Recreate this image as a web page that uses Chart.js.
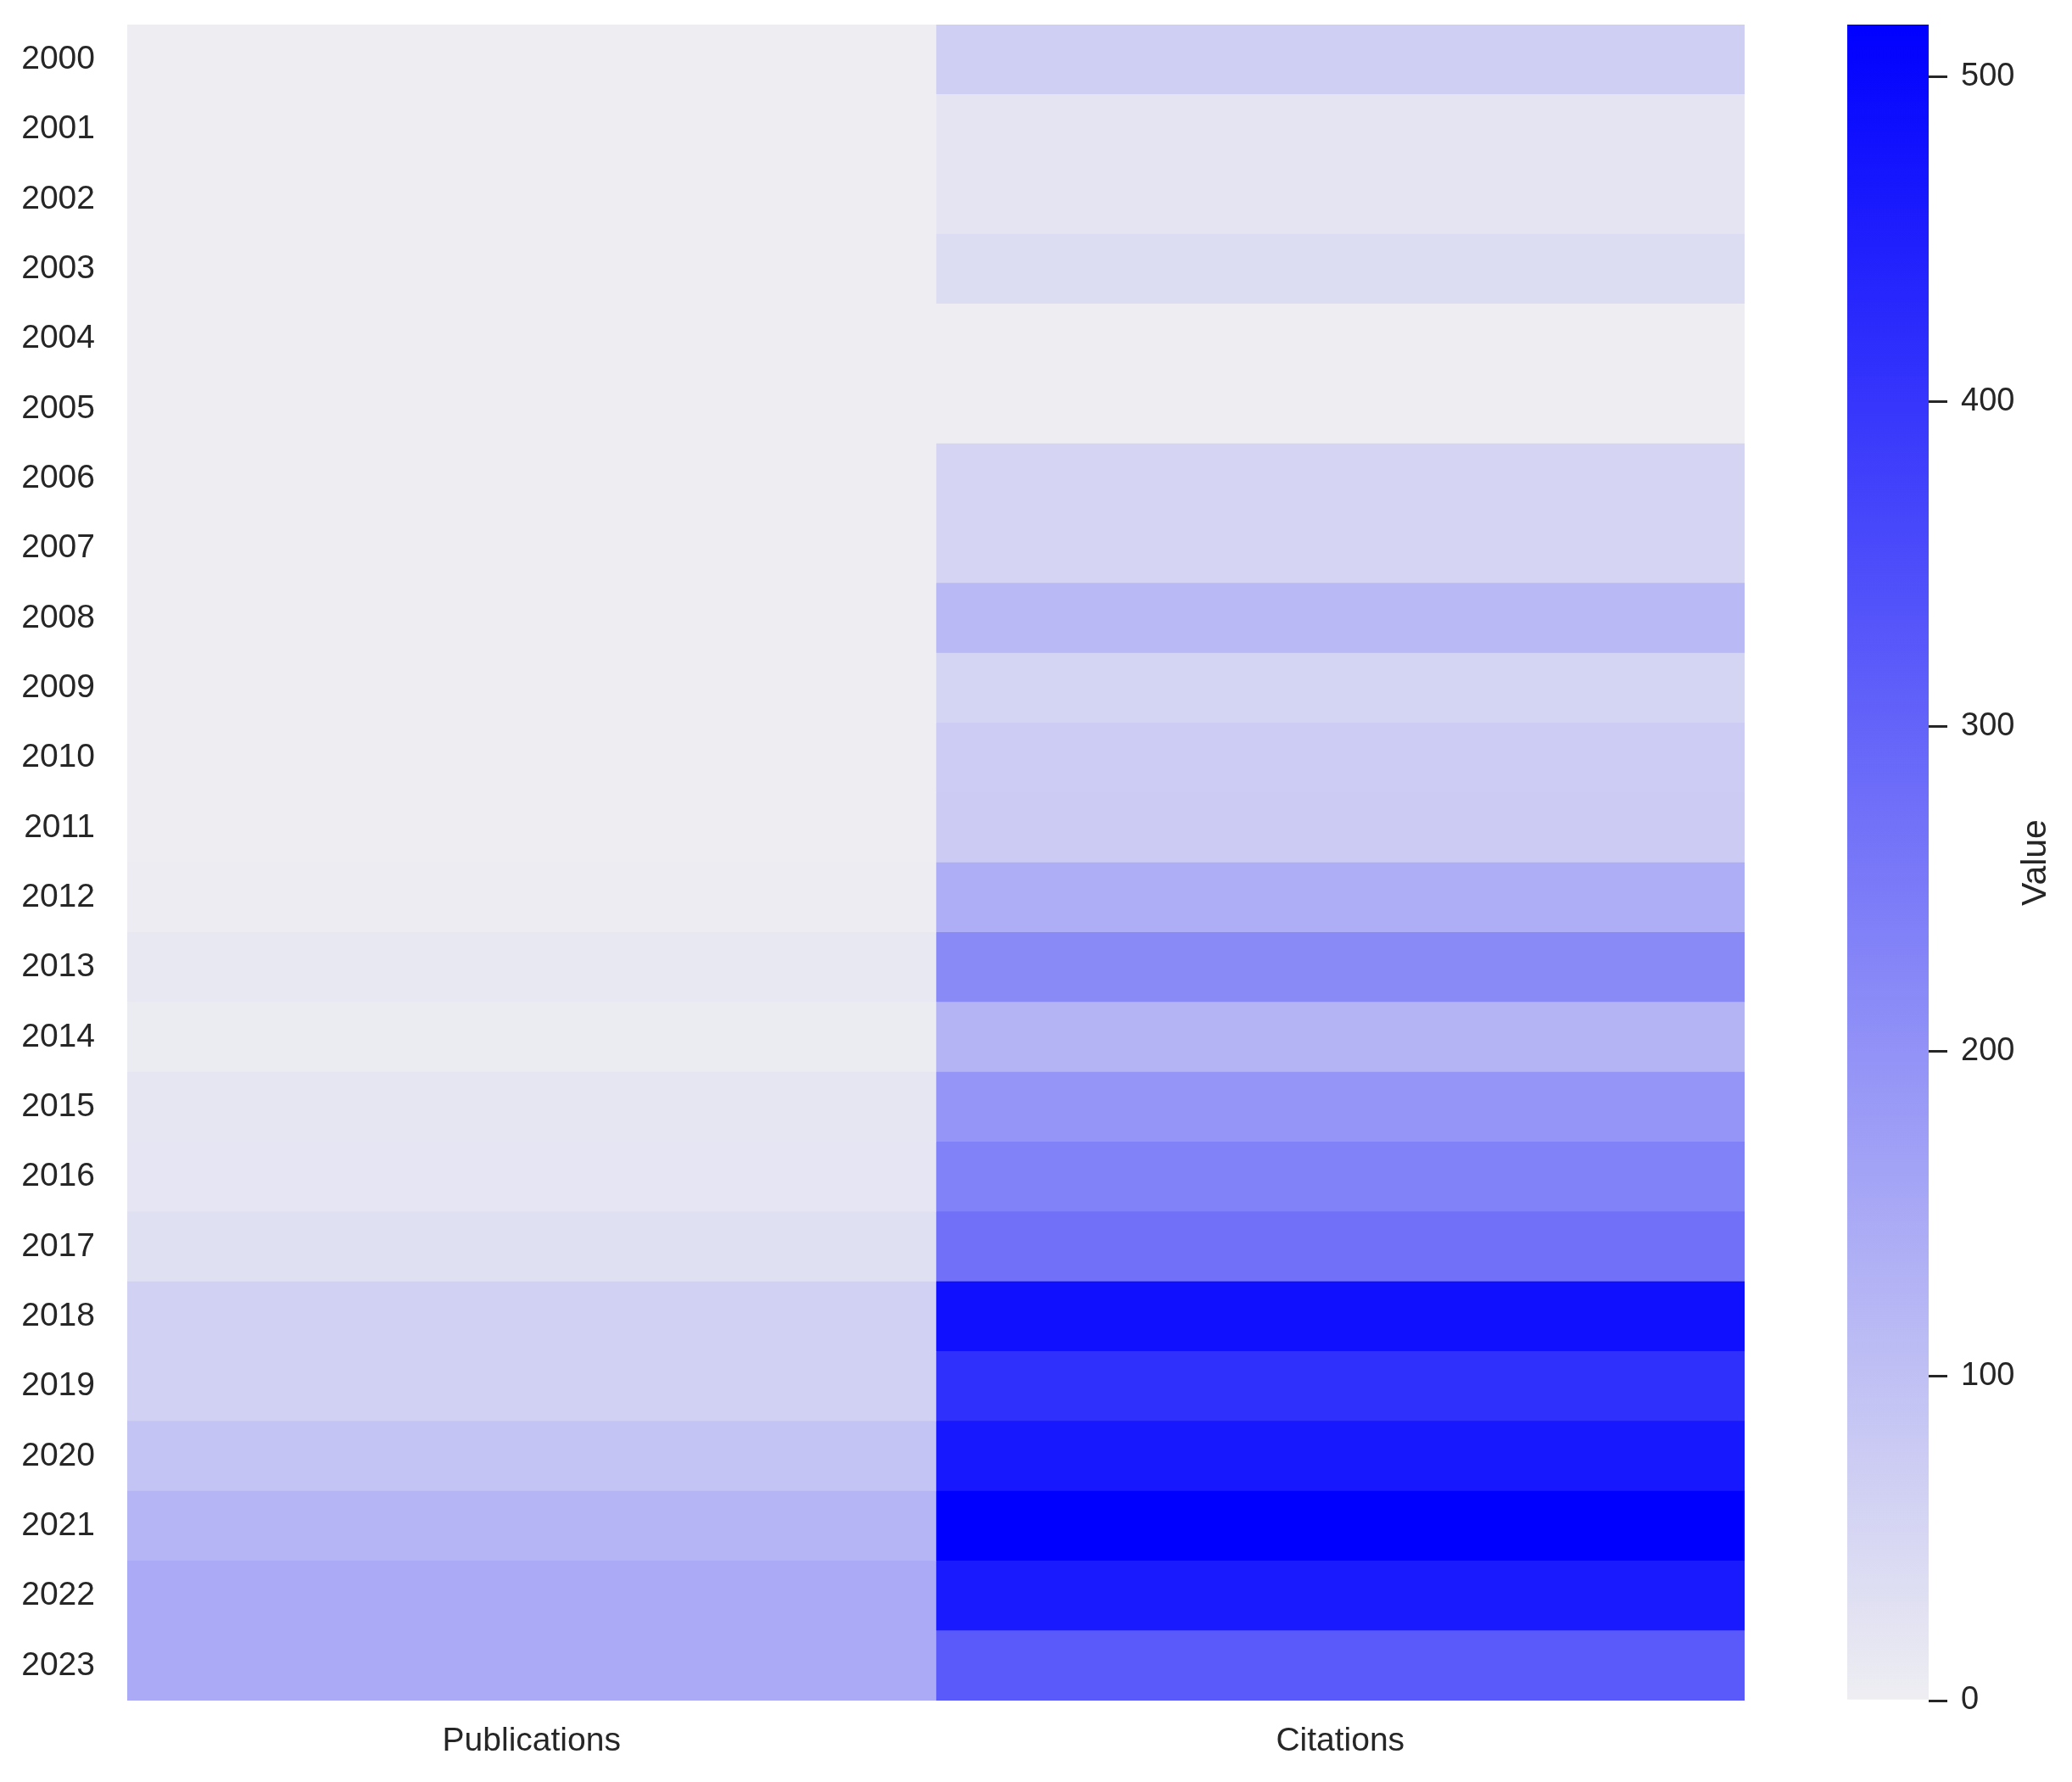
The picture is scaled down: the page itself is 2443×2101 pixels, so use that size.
<!DOCTYPE html>
<html>
<head>
<meta charset="utf-8">
<script src="https://cdn.jsdelivr.net/npm/chart.js@4.4.1/dist/chart.umd.min.js"></script>
<style>
  body { margin: 0; background: #fff; }
  #main { position: absolute; left: 0; top: 0; width: 2057px; height: 2101px; }
  #bar { position: absolute; left: 2100px; top: 0; width: 343px; height: 2101px; }
</style>
</head>
<body>
<div id="main"><canvas id="heat"></canvas></div>
<div id="bar"><canvas id="scale"></canvas></div>
<script>
let years = ["2000", "2001", "2002", "2003", "2004", "2005", "2006", "2007", "2008", "2009", "2010", "2011",
             "2012", "2013", "2014", "2015", "2016", "2017", "2018", "2019", "2020", "2021", "2022", "2023"];
let columns = ["Publications", "Citations"];
let publications = [0, 0, 0, 0, 0, 0, 1, 1, 1, 1, 2, 2, 5, 13, 6, 17, 20, 30, 63, 63, 91, 124, 147, 147];
let citations = [67, 22, 22, 39, 0, 0, 54, 54, 115, 56, 73, 75, 139, 217, 126, 193, 234, 273, 481, 413, 464, 516, 460, 321];
let colorTicks = [0, 100, 200, 300, 400, 500];

let textColor = "#262626";
let fontFamily = "'Liberation Sans', Arial, sans-serif";
let vmax = Math.max(...publications, ...citations);

// seaborn light_palette("blue"): light grey -> pure blue
function cellColor(v) {
    let t = v / vmax;
    let r = Math.round(238 * (1 - t));
    let b = Math.round(242 + (255 - 242) * t);
    return "rgb(" + r + "," + r + "," + b + ")";
}

// stop Chart.js from reserving extra room for half tick labels
function noEdgePadding(s) {
    s.paddingTop = 0;
    s.paddingBottom = 0;
    s.paddingLeft = 0;
    s.paddingRight = 0;
}

new Chart("heat", {
    type: "bar",
    data: {
        labels: years,
        datasets: [
            {label: columns[0], values: publications, data: publications.map(() => 1), backgroundColor: publications.map(cellColor)},
            {label: columns[1], values: citations, data: citations.map(() => 1), backgroundColor: citations.map(cellColor)}
        ]
    },
    options: {
        indexAxis: "y",
        responsive: true,
        maintainAspectRatio: false,
        animation: false,
        layout: {padding: {top: 29, left: 0, right: 0, bottom: 0}},
        datasets: {bar: {barPercentage: 1, categoryPercentage: 1, borderWidth: 0}},
        plugins: {
            legend: {display: false},
            tooltip: {
                callbacks: {
                    label: (c) => c.dataset.label + ": " + c.dataset.values[c.dataIndex]
                }
            }
        },
        scales: {
            x: {
                type: "linear",
                stacked: true,
                min: 0,
                max: 2,
                grid: {display: false, drawTicks: false},
                border: {display: false},
                afterBuildTicks: (s) => { s.ticks = [{value: 0.5}, {value: 1.5}]; },
                afterFit: (s) => { s.height = 96; noEdgePadding(s); },
                ticks: {
                    padding: 25,
                    maxRotation: 0,
                    color: textColor,
                    font: {family: fontFamily, size: 39},
                    callback: (v) => columns[Math.floor(v)]
                }
            },
            y: {
                stacked: true,
                grid: {display: false, drawTicks: false},
                border: {display: false},
                afterFit: (s) => { s.width = 150; noEdgePadding(s); },
                ticks: {
                    padding: 38,
                    autoSkip: false,
                    color: textColor,
                    font: {family: fontFamily, size: 39}
                }
            }
        }
    }
});

function barGradient(context) {
    let chart = context.chart;
    if (!chart.chartArea) return cellColor(0);
    let y = chart.scales.y;
    let g = chart.ctx.createLinearGradient(0, y.getPixelForValue(0), 0, y.getPixelForValue(vmax));
    g.addColorStop(0, cellColor(0));
    g.addColorStop(1, cellColor(vmax));
    return g;
}

// colorbar label reads bottom-to-top, so draw it ourselves
const valueTitle = {
    id: "valueTitle",
    afterDraw(chart) {
        let ctx = chart.ctx;
        let area = chart.chartArea;
        ctx.save();
        ctx.translate(chart.width - 42, (area.top + area.bottom) / 2);
        ctx.rotate(-Math.PI / 2);
        ctx.font = "41px " + fontFamily;
        ctx.fillStyle = textColor;
        ctx.textAlign = "center";
        ctx.textBaseline = "middle";
        ctx.fillText("Value", 0, 0);
        ctx.restore();
    }
};

new Chart("scale", {
    type: "bar",
    data: {
        labels: [""],
        datasets: [{data: [[0, vmax]], backgroundColor: barGradient, borderWidth: 0}]
    },
    options: {
        responsive: true,
        maintainAspectRatio: false,
        animation: false,
        layout: {padding: {left: 78, top: 29, bottom: 96, right: 0}},
        datasets: {bar: {barPercentage: 1, categoryPercentage: 1}},
        plugins: {legend: {display: false}, tooltip: {enabled: false}},
        scales: {
            x: {display: false},
            y: {
                position: "right",
                min: 0,
                max: vmax,
                afterBuildTicks: (s) => { s.ticks = colorTicks.map((v) => ({value: v})); },
                afterFit: (s) => { s.width = 169; noEdgePadding(s); },
                grid: {drawOnChartArea: false, drawTicks: true, tickLength: 22, color: textColor, lineWidth: 3},
                border: {display: false},
                ticks: {
                    padding: 16,
                    color: textColor,
                    font: {family: fontFamily, size: 38}
                }
            }
        }
    },
    plugins: [valueTitle]
});
</script>
</body>
</html>
